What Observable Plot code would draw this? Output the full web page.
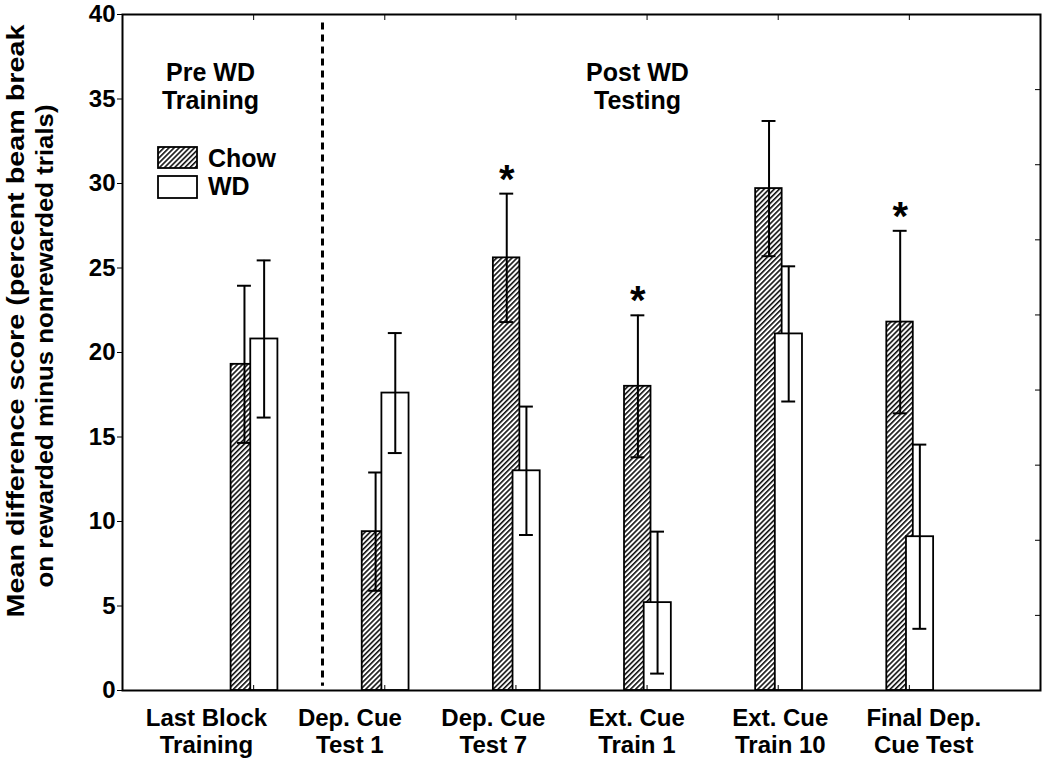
<!DOCTYPE html>
<html><head><meta charset="utf-8">
<script src="https://cdn.jsdelivr.net/npm/d3@7"></script>
<script src="https://cdn.jsdelivr.net/npm/@observablehq/plot@0.6"></script>
<style>body{margin:0;background:#fff;}</style>
</head><body><div id="chart"></div>
<script>
// ---- data ----
const categories = ["Last Block\nTraining", "Dep. Cue\nTest 1", "Dep. Cue\nTest 7", "Ext. Cue\nTrain 1", "Ext. Cue\nTrain 10", "Final Dep.\nCue Test"];
const seriesNames = ["Chow", "WD"];
const chowMean = [19.3, 9.4, 25.6, 18.0, 29.7, 21.8];
const chowSem  = [4.65, 3.5, 3.8, 4.2, 4.0, 5.4];
const wdMean   = [20.8, 17.6, 13.0, 5.2, 21.1, 9.1];
const wdSem    = [4.65, 3.55, 3.8, 4.2, 4.0, 5.45];
const significant = [false, false, true, true, false, true];
const yTicks = [0, 5, 10, 15, 20, 25, 30, 35, 40];
const phaseLabels = ["Pre WD\nTraining", "Post WD\nTesting"];
const yLabelLines = ["Mean difference score (percent beam break", "on rewarded minus nonrewarded trials)"];

// ---- build tables ----
const chowRows = categories.map((c, i) => ({cat: c, pos: i + 1, mean: chowMean[i], sem: chowSem[i], sig: significant[i]}));
const wdRows = categories.map((c, i) => ({cat: c, pos: i + 1, mean: wdMean[i], sem: wdSem[i]}));
const catRows = categories.map((c, i) => ({i, l1: c.split("\n")[0], l2: c.split("\n")[1]}));
const phaseRows = phaseLabels.map((p, i) => ({i, l1: p.split("\n")[0], l2: p.split("\n")[1]}));

// layout (in x-scale units; categories sit at 1..6)
const chowX1 = -0.172, chowX2 = 0.03, wdX1 = -0.022, wdX2 = 0.185;
const chowW = -0.07, wdW = 0.08, cap = 0.053;
const labelX = i => 0.64 + 1.094 * i;
const phaseX = [0.671, 3.927];
const divider = 1.525;

const font = "'Liberation Sans', Arial, Helvetica, sans-serif";

const errMarks = (rows, off) => [
  Plot.ruleX(rows, {x: d => d.pos + off, y1: d => d.mean - d.sem, y2: d => d.mean + d.sem, stroke: "black", strokeWidth: 2}),
  Plot.ruleY(rows, {y: d => d.mean + d.sem, x1: d => d.pos + off - cap, x2: d => d.pos + off + cap, stroke: "black", strokeWidth: 2}),
  Plot.ruleY(rows, {y: d => d.mean - d.sem, x1: d => d.pos + off - cap, x2: d => d.pos + off + cap, stroke: "black", strokeWidth: 2})
];

const chart = Plot.plot({
  width: 1050,
  height: 762,
  marginLeft: 122,
  marginRight: 10,
  marginTop: 14,
  marginBottom: 72,
  style: {fontFamily: font, fontSize: "24px", fontWeight: "bold", background: "white", color: "black"},
  x: {type: "linear", domain: [0, 7], axis: null},
  y: {domain: [0, 40], axis: null},
  marks: [
    Plot.rect(chowRows, {x1: d => d.pos + chowX1, x2: d => d.pos + chowX2, y1: 0, y2: "mean", fill: "url(#hatch)", stroke: "black", strokeWidth: 1.8}),
    ...errMarks(chowRows, chowW),
    Plot.rect(wdRows, {x1: d => d.pos + wdX1, x2: d => d.pos + wdX2, y1: 0, y2: "mean", fill: "white", stroke: "black", strokeWidth: 1.8}),
    ...errMarks(wdRows, wdW),
    Plot.text(chowRows.filter(d => d.sig), {x: d => d.pos + chowW, y: d => d.mean + d.sem, text: d => "*", lineAnchor: "bottom", dy: -1, fontSize: 40, fill: "black"}),
    Plot.ruleX([divider], {y1: 39.5, y2: 0.25, stroke: "black", strokeWidth: 3, strokeDasharray: "7,5"}),
    Plot.frame({stroke: "black", strokeWidth: 2}),
    Plot.axisY({anchor: "left", ticks: yTicks, tickSize: 5, tickPadding: 2, label: null, fontSize: 24}),
    Plot.axisY({anchor: "right", ticks: d3.range(10).map(k => k * 40 / 9), tickSize: -6, tickFormat: () => "", label: null}),
    Plot.axisX({anchor: "bottom", ticks: [1, 2, 3, 4, 5, 6], tickSize: -5, tickFormat: () => "", label: null}),
    Plot.axisX({anchor: "top", ticks: [1, 2, 3, 4, 5, 6], tickSize: -5, tickFormat: () => "", label: null}),
    Plot.text(catRows, {x: d => labelX(d.i), text: "l1", frameAnchor: "bottom", lineAnchor: "bottom", dy: 35, fontSize: 24, fill: "black"}),
    Plot.text(catRows, {x: d => labelX(d.i), text: "l2", frameAnchor: "bottom", lineAnchor: "bottom", dy: 62, fontSize: 24, fill: "black"}),
    Plot.text(phaseRows, {x: d => phaseX[d.i], text: "l1", frameAnchor: "top", lineAnchor: "bottom", dy: 66, fontSize: 25, fill: "black"}),
    Plot.text(phaseRows, {x: d => phaseX[d.i], text: "l2", frameAnchor: "top", lineAnchor: "bottom", dy: 94, fontSize: 25, fill: "black"})
  ]
});

const svg = d3.select(chart);
const defs = svg.insert("defs", ":first-child");
const pat = defs.append("pattern").attr("id", "hatch").attr("patternUnits", "userSpaceOnUse")
  .attr("width", 3.6).attr("height", 3.6).attr("patternTransform", "rotate(45)");
pat.append("rect").attr("width", 3.6).attr("height", 3.6).attr("fill", "white");
pat.append("line").attr("x1", 0.8).attr("y1", 0).attr("x2", 0.8).attr("y2", 3.6).attr("stroke", "black").attr("stroke-width", 1.5);

// y-axis title (two lines)
const yl = svg.append("g").attr("font-family", font).attr("font-weight", "bold").attr("font-size", 24).attr("fill", "black");
yl.append("text").attr("transform", "translate(24,321) rotate(-90)").attr("text-anchor", "middle")
  .attr("textLength", 593).attr("lengthAdjust", "spacingAndGlyphs").text(yLabelLines[0]);
yl.append("text").attr("transform", "translate(53,346) rotate(-90)").attr("text-anchor", "middle")
  .attr("textLength", 483).attr("lengthAdjust", "spacingAndGlyphs").text(yLabelLines[1]);

// legend
const lg = svg.append("g").attr("font-family", font).attr("font-weight", "bold").attr("font-size", 25).attr("fill", "black").attr("text-anchor", "start");
lg.append("rect").attr("x", 158).attr("y", 147).attr("width", 39).attr("height", 21).attr("fill", "url(#hatch)").attr("stroke", "black").attr("stroke-width", 1.8);
lg.append("rect").attr("x", 158).attr("y", 176).attr("width", 39).attr("height", 22).attr("fill", "white").attr("stroke", "black").attr("stroke-width", 1.8);
lg.append("text").attr("x", 208).attr("y", 167).attr("text-anchor", "start").text(seriesNames[0]);
lg.append("text").attr("x", 208).attr("y", 195).attr("text-anchor", "start").text(seriesNames[1]);

document.getElementById("chart").appendChild(chart);
</script>
</body></html>
